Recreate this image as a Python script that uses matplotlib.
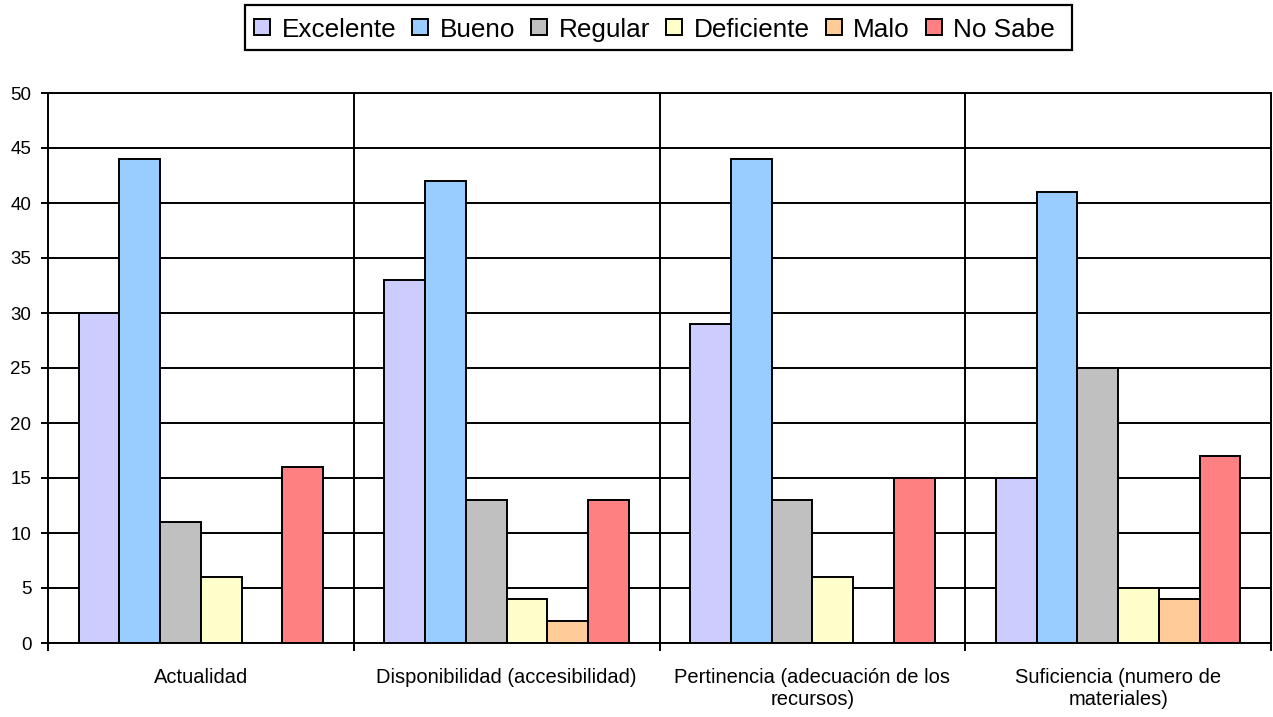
import matplotlib
matplotlib.use("Agg")
import matplotlib.pyplot as plt
import numpy as np
from matplotlib.patches import Rectangle

categories = ["Actualidad", "Disponibilidad (accesibilidad)",
              "Pertinencia (adecuación de los\nrecursos)",
              "Suficiencia (numero de\nmateriales)"]
series_names = ["Excelente", "Bueno", "Regular", "Deficiente", "Malo", "No Sabe"]
excelente = [30, 33, 29, 15]
bueno = [44, 42, 44, 41]
regular = [11, 13, 13, 25]
deficiente = [6, 4, 6, 5]
malo = [0, 2, 0, 4]
no_sabe = [16, 13, 15, 17]
series_values = [excelente, bueno, regular, deficiente, malo, no_sabe]
colors = ["#CCCCFF", "#99CCFF", "#C0C0C0", "#FFFFCC", "#FFCC99", "#FF8080"]
yticks = [0, 5, 10, 15, 20, 25, 30, 35, 40, 45, 50]

plt.rcParams['font.family'] = ['Liberation Sans', 'DejaVu Sans']

W, H = 1273, 717
fig = plt.figure(figsize=(W/100, H/100), dpi=100)
ax = fig.add_axes([48/W, 1-643/H, (1271-48)/W, (643-93)/H])

width = 1/7.5
offset0 = 0.75/7.5
x = np.arange(len(categories))
for i, (name, vals, c) in enumerate(zip(series_names, series_values, colors)):
    pos = x + offset0 + width*i + width/2
    ax.bar(pos, vals, width=width, color=c, edgecolor="black", linewidth=1.4,
           label=name, zorder=3)

ax.set_xlim(0, len(categories))
ax.set_ylim(0, 50)
ax.set_yticks(yticks)
ax.set_yticklabels([str(t) for t in yticks], fontsize=13.5)
ax.set_xticks(np.arange(len(categories)+1))
ax.set_xticklabels([])
ax.set_xticks(x + 0.5, minor=True)
ax.set_xticklabels(categories, minor=True, fontsize=14.5, ha="center", va="top")
ax.tick_params(axis="x", which="minor", length=0, pad=18)
ax.tick_params(axis="x", which="major", length=6, width=1.4, direction="out")
ax.tick_params(axis="y", length=5, width=1.4, direction="out", pad=7)
for lab in ax.get_xticklabels(minor=True):
    lab.set_multialignment("center")

ax.grid(True, axis="y", color="black", linewidth=1.4, zorder=0)
for xv in range(1, len(categories)):
    ax.axvline(xv, color="black", linewidth=1.4, zorder=0)
for s in ["left", "bottom", "right", "top"]:
    ax.spines[s].set_linewidth(1.4)
    ax.spines[s].set_zorder(4)

# Legend drawn manually (pixel layout, y from top)
renderer = fig.canvas.get_renderer()
fs = 18.8
sq = 16
gap_text = 11.5
gap_col = 16
baseline = 37
sq_top = 19
xcur = 254
for name, c in zip(series_names, colors):
    fig.patches.append(Rectangle((xcur/W, 1-(sq_top+sq)/H), sq/W, sq/H,
                                 transform=fig.transFigure, facecolor=c,
                                 edgecolor="black", linewidth=1.4))
    t = fig.text((xcur+sq+gap_text)/W, 1-baseline/H, name, fontsize=fs,
                 ha="left", va="baseline")
    tw = t.get_window_extent(renderer).width
    xcur = xcur + sq + gap_text + tw + gap_col
right = xcur - gap_col + 17
fig.patches.append(Rectangle((245/W, 1-50/H), (right-245)/W, 45/H,
                             transform=fig.transFigure, facecolor="none",
                             edgecolor="black", linewidth=1.6))

fig.savefig("out.png", dpi=100, facecolor="white")
